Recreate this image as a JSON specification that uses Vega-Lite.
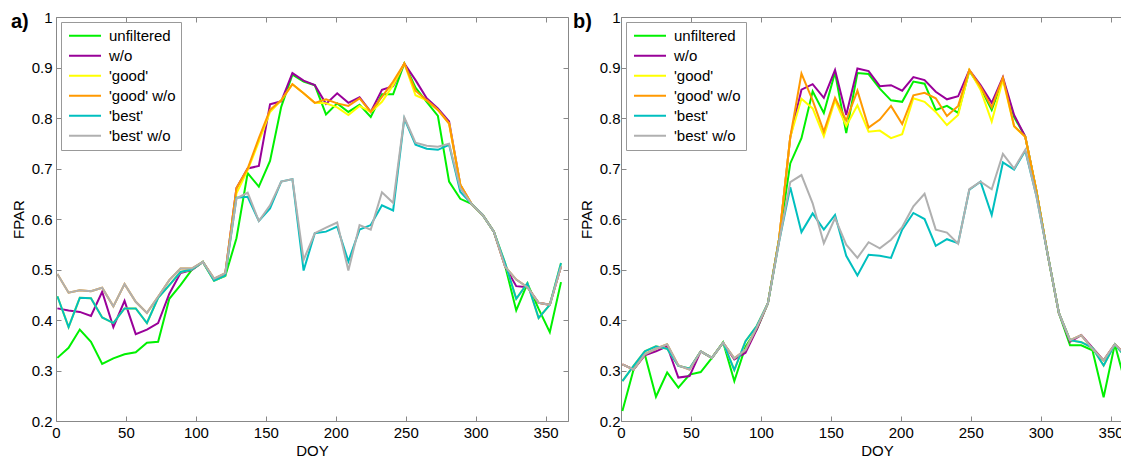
{
  "$schema": "https://vega.github.io/schema/vega-lite/v6.json",
  "background": "white",
  "padding": {"left": 10, "top": 9, "right": 0, "bottom": 0},
  "spacing": 3,
  "config": {
    "font": "Liberation Sans",
    "view": {"stroke": "#888888", "strokeWidth": 1},
    "axis": {"grid": false, "domain": false, "tickColor": "#888888", "tickSize": -5, "labelFontSize": 15, "labelColor": "black", "titleFontSize": 15, "titleFontWeight": "normal", "titleColor": "black", "labelFlush": false, "labelOverlap": false},
    "legend": {"orient": "top-left", "offset": 5, "padding": 5, "strokeColor": "#999999", "fillColor": "white", "symbolType": "stroke", "symbolSize": 1024, "symbolStrokeWidth": 2, "clipHeight": 17.5, "rowPadding": 2, "labelFontSize": 15, "labelColor": "black", "labelOffset": 7, "symbolOffset": 2},
    "title": {"fontSize": 20, "fontWeight": "bold", "color": "black", "anchor": "start", "frame": "group", "baseline": "alphabetic", "offset": 0}
  },
  "datasets": {
    "a": [
      {"doy": 1, "u": 0.325, "w": 0.423, "g": 0.447, "gw": 0.491, "b": 0.447, "bw": 0.491},
      {"doy": 9, "u": 0.345, "w": 0.419, "g": 0.386, "gw": 0.454, "b": 0.386, "bw": 0.454},
      {"doy": 17, "u": 0.381, "w": 0.416, "g": 0.444, "gw": 0.459, "b": 0.444, "bw": 0.459},
      {"doy": 25, "u": 0.357, "w": 0.408, "g": 0.443, "gw": 0.457, "b": 0.443, "bw": 0.457},
      {"doy": 33, "u": 0.313, "w": 0.456, "g": 0.405, "gw": 0.464, "b": 0.405, "bw": 0.464},
      {"doy": 41, "u": 0.324, "w": 0.386, "g": 0.394, "gw": 0.427, "b": 0.394, "bw": 0.427},
      {"doy": 49, "u": 0.332, "w": 0.438, "g": 0.423, "gw": 0.471, "b": 0.423, "bw": 0.471},
      {"doy": 57, "u": 0.336, "w": 0.372, "g": 0.423, "gw": 0.436, "b": 0.423, "bw": 0.436},
      {"doy": 65, "u": 0.355, "w": 0.381, "g": 0.394, "gw": 0.414, "b": 0.394, "bw": 0.414},
      {"doy": 73, "u": 0.357, "w": 0.394, "g": 0.444, "gw": 0.446, "b": 0.444, "bw": 0.446},
      {"doy": 81, "u": 0.442, "w": 0.452, "g": 0.469, "gw": 0.479, "b": 0.469, "bw": 0.479},
      {"doy": 89, "u": 0.469, "w": 0.493, "g": 0.495, "gw": 0.502, "b": 0.495, "bw": 0.502},
      {"doy": 97, "u": 0.499, "w": 0.499, "g": 0.5, "gw": 0.502, "b": 0.5, "bw": 0.502},
      {"doy": 105, "u": 0.515, "w": 0.515, "g": 0.515, "gw": 0.515, "b": 0.515, "bw": 0.515},
      {"doy": 113, "u": 0.478, "w": 0.48, "g": 0.478, "gw": 0.482, "b": 0.478, "bw": 0.482},
      {"doy": 121, "u": 0.487, "w": 0.492, "g": 0.488, "gw": 0.493, "b": 0.488, "bw": 0.493},
      {"doy": 129, "u": 0.562, "w": 0.661, "g": 0.651, "gw": 0.661, "b": 0.642, "bw": 0.641},
      {"doy": 137, "u": 0.691, "w": 0.7, "g": 0.697, "gw": 0.7, "b": 0.644, "bw": 0.652},
      {"doy": 145, "u": 0.664, "w": 0.705, "g": 0.753, "gw": 0.76, "b": 0.596, "bw": 0.596},
      {"doy": 153, "u": 0.715, "w": 0.827, "g": 0.812, "gw": 0.816, "b": 0.621, "bw": 0.627},
      {"doy": 161, "u": 0.822, "w": 0.833, "g": 0.835, "gw": 0.835, "b": 0.674, "bw": 0.674},
      {"doy": 169, "u": 0.886, "w": 0.889, "g": 0.867, "gw": 0.867, "b": 0.679, "bw": 0.679},
      {"doy": 177, "u": 0.872, "w": 0.874, "g": 0.849, "gw": 0.849, "b": 0.498, "bw": 0.519},
      {"doy": 185, "u": 0.865, "w": 0.865, "g": 0.83, "gw": 0.83, "b": 0.572, "bw": 0.572},
      {"doy": 193, "u": 0.807, "w": 0.828, "g": 0.829, "gw": 0.837, "b": 0.575, "bw": 0.583},
      {"doy": 201, "u": 0.829, "w": 0.849, "g": 0.821, "gw": 0.829, "b": 0.585, "bw": 0.593},
      {"doy": 209, "u": 0.812, "w": 0.83, "g": 0.806, "gw": 0.824, "b": 0.516, "bw": 0.498},
      {"doy": 217, "u": 0.826, "w": 0.841, "g": 0.824, "gw": 0.839, "b": 0.579, "bw": 0.588},
      {"doy": 225, "u": 0.802, "w": 0.812, "g": 0.812, "gw": 0.812, "b": 0.588, "bw": 0.579},
      {"doy": 233, "u": 0.847, "w": 0.856, "g": 0.832, "gw": 0.842, "b": 0.627, "bw": 0.653},
      {"doy": 241, "u": 0.847, "w": 0.863, "g": 0.865, "gw": 0.872, "b": 0.617, "bw": 0.632},
      {"doy": 249, "u": 0.908, "w": 0.908, "g": 0.908, "gw": 0.908, "b": 0.799, "bw": 0.801},
      {"doy": 257, "u": 0.86, "w": 0.875, "g": 0.845, "gw": 0.854, "b": 0.747, "bw": 0.751},
      {"doy": 265, "u": 0.832, "w": 0.839, "g": 0.835, "gw": 0.835, "b": 0.739, "bw": 0.745},
      {"doy": 273, "u": 0.804, "w": 0.819, "g": 0.816, "gw": 0.816, "b": 0.737, "bw": 0.743},
      {"doy": 281, "u": 0.674, "w": 0.793, "g": 0.789, "gw": 0.789, "b": 0.747, "bw": 0.749},
      {"doy": 289, "u": 0.64, "w": 0.668, "g": 0.668, "gw": 0.668, "b": 0.654, "bw": 0.661},
      {"doy": 297, "u": 0.63, "w": 0.63, "g": 0.63, "gw": 0.63, "b": 0.63, "bw": 0.63},
      {"doy": 305, "u": 0.608, "w": 0.608, "g": 0.608, "gw": 0.608, "b": 0.608, "bw": 0.608},
      {"doy": 313, "u": 0.575, "w": 0.575, "g": 0.575, "gw": 0.575, "b": 0.575, "bw": 0.575},
      {"doy": 321, "u": 0.508, "w": 0.506, "g": 0.513, "gw": 0.506, "b": 0.513, "bw": 0.506},
      {"doy": 329, "u": 0.419, "w": 0.467, "g": 0.442, "gw": 0.48, "b": 0.442, "bw": 0.48},
      {"doy": 337, "u": 0.472, "w": 0.465, "g": 0.473, "gw": 0.465, "b": 0.473, "bw": 0.465},
      {"doy": 345, "u": 0.422, "w": 0.434, "g": 0.404, "gw": 0.434, "b": 0.404, "bw": 0.434},
      {"doy": 353, "u": 0.376, "w": 0.43, "g": 0.43, "gw": 0.43, "b": 0.43, "bw": 0.43},
      {"doy": 361, "u": 0.475, "w": 0.506, "g": 0.513, "gw": 0.506, "b": 0.513, "bw": 0.506}
    ],
    "b": [
      {"doy": 1, "u": 0.22, "w": 0.312, "g": 0.279, "gw": 0.312, "b": 0.279, "bw": 0.312},
      {"doy": 9, "u": 0.302, "w": 0.302, "g": 0.309, "gw": 0.302, "b": 0.309, "bw": 0.302},
      {"doy": 17, "u": 0.332, "w": 0.33, "g": 0.338, "gw": 0.332, "b": 0.338, "bw": 0.332},
      {"doy": 25, "u": 0.248, "w": 0.338, "g": 0.348, "gw": 0.343, "b": 0.348, "bw": 0.343},
      {"doy": 33, "u": 0.296, "w": 0.348, "g": 0.343, "gw": 0.352, "b": 0.343, "bw": 0.352},
      {"doy": 41, "u": 0.266, "w": 0.286, "g": 0.309, "gw": 0.31, "b": 0.309, "bw": 0.31},
      {"doy": 49, "u": 0.292, "w": 0.289, "g": 0.304, "gw": 0.302, "b": 0.304, "bw": 0.302},
      {"doy": 57, "u": 0.297, "w": 0.338, "g": 0.338, "gw": 0.338, "b": 0.338, "bw": 0.338},
      {"doy": 65, "u": 0.325, "w": 0.325, "g": 0.325, "gw": 0.325, "b": 0.325, "bw": 0.325},
      {"doy": 73, "u": 0.356, "w": 0.355, "g": 0.355, "gw": 0.355, "b": 0.355, "bw": 0.355},
      {"doy": 81, "u": 0.279, "w": 0.322, "g": 0.301, "gw": 0.324, "b": 0.301, "bw": 0.324},
      {"doy": 89, "u": 0.347, "w": 0.335, "g": 0.358, "gw": 0.341, "b": 0.358, "bw": 0.341},
      {"doy": 97, "u": 0.381, "w": 0.381, "g": 0.388, "gw": 0.385, "b": 0.388, "bw": 0.385},
      {"doy": 105, "u": 0.433, "w": 0.433, "g": 0.433, "gw": 0.433, "b": 0.433, "bw": 0.433},
      {"doy": 113, "u": 0.56, "w": 0.56, "g": 0.56, "gw": 0.56, "b": 0.555, "bw": 0.555},
      {"doy": 121, "u": 0.71, "w": 0.762, "g": 0.762, "gw": 0.762, "b": 0.663, "bw": 0.673},
      {"doy": 129, "u": 0.76, "w": 0.856, "g": 0.838, "gw": 0.888, "b": 0.574, "bw": 0.687},
      {"doy": 137, "u": 0.853, "w": 0.867, "g": 0.819, "gw": 0.835, "b": 0.611, "bw": 0.631},
      {"doy": 145, "u": 0.81, "w": 0.84, "g": 0.764, "gw": 0.773, "b": 0.579, "bw": 0.552},
      {"doy": 153, "u": 0.89, "w": 0.895, "g": 0.835, "gw": 0.84, "b": 0.608, "bw": 0.602},
      {"doy": 161, "u": 0.77, "w": 0.806, "g": 0.784, "gw": 0.795, "b": 0.527, "bw": 0.549},
      {"doy": 169, "u": 0.889, "w": 0.898, "g": 0.825, "gw": 0.854, "b": 0.488, "bw": 0.523},
      {"doy": 177, "u": 0.887, "w": 0.893, "g": 0.773, "gw": 0.781, "b": 0.529, "bw": 0.554},
      {"doy": 185, "u": 0.858, "w": 0.863, "g": 0.775, "gw": 0.797, "b": 0.527, "bw": 0.542},
      {"doy": 193, "u": 0.835, "w": 0.865, "g": 0.76, "gw": 0.824, "b": 0.523, "bw": 0.559},
      {"doy": 201, "u": 0.832, "w": 0.854, "g": 0.768, "gw": 0.788, "b": 0.579, "bw": 0.584},
      {"doy": 209, "u": 0.872, "w": 0.881, "g": 0.839, "gw": 0.845, "b": 0.612, "bw": 0.625},
      {"doy": 217, "u": 0.868, "w": 0.875, "g": 0.832, "gw": 0.85, "b": 0.6, "bw": 0.65},
      {"doy": 225, "u": 0.816, "w": 0.852, "g": 0.812, "gw": 0.839, "b": 0.547, "bw": 0.579},
      {"doy": 233, "u": 0.824, "w": 0.837, "g": 0.786, "gw": 0.804, "b": 0.56, "bw": 0.573},
      {"doy": 241, "u": 0.81, "w": 0.843, "g": 0.806, "gw": 0.824, "b": 0.552, "bw": 0.551},
      {"doy": 249, "u": 0.893, "w": 0.895, "g": 0.895, "gw": 0.895, "b": 0.658, "bw": 0.659},
      {"doy": 257, "u": 0.86, "w": 0.865, "g": 0.856, "gw": 0.862, "b": 0.674, "bw": 0.674},
      {"doy": 265, "u": 0.816, "w": 0.83, "g": 0.793, "gw": 0.821, "b": 0.608, "bw": 0.659},
      {"doy": 273, "u": 0.877, "w": 0.881, "g": 0.876, "gw": 0.88, "b": 0.712, "bw": 0.729},
      {"doy": 281, "u": 0.802, "w": 0.806, "g": 0.783, "gw": 0.784, "b": 0.698, "bw": 0.7},
      {"doy": 289, "u": 0.763, "w": 0.763, "g": 0.763, "gw": 0.763, "b": 0.735, "bw": 0.737},
      {"doy": 297, "u": 0.655, "w": 0.655, "g": 0.655, "gw": 0.655, "b": 0.645, "bw": 0.645},
      {"doy": 305, "u": 0.53, "w": 0.53, "g": 0.53, "gw": 0.53, "b": 0.53, "bw": 0.53},
      {"doy": 313, "u": 0.414, "w": 0.414, "g": 0.414, "gw": 0.414, "b": 0.414, "bw": 0.414},
      {"doy": 321, "u": 0.35, "w": 0.357, "g": 0.36, "gw": 0.36, "b": 0.36, "bw": 0.36},
      {"doy": 329, "u": 0.35, "w": 0.37, "g": 0.356, "gw": 0.37, "b": 0.356, "bw": 0.37},
      {"doy": 337, "u": 0.34, "w": 0.345, "g": 0.345, "gw": 0.343, "b": 0.345, "bw": 0.343},
      {"doy": 345, "u": 0.247, "w": 0.32, "g": 0.31, "gw": 0.32, "b": 0.31, "bw": 0.32},
      {"doy": 353, "u": 0.352, "w": 0.352, "g": 0.352, "gw": 0.352, "b": 0.352, "bw": 0.352},
      {"doy": 361, "u": 0.27, "w": 0.33, "g": 0.325, "gw": 0.33, "b": 0.325, "bw": 0.33}
    ]
  },
  "resolve": {"scale": {"color": "independent"}, "legend": {"color": "independent"}},
  "hconcat": [
    {
      "width": 512,
      "height": 404,
      "data": {"name": "a"},
      "transform": [{"fold": ["u", "w", "g", "gw", "b", "bw"], "as": ["series", "v"]}],
      "title": {"text": "a)", "dx": -45, "dy": 26},
      "layer": [
        {
          "mark": {"type": "line", "strokeWidth": 2},
          "encoding": {
            "x": {"field": "doy", "type": "quantitative", "scale": {"domain": [0, 366], "nice": false, "zero": false},
              "axis": {"orient": "bottom", "values": [0, 50, 100, 150, 200, 250, 300, 350], "labelPadding": 9, "title": "DOY", "titlePadding": 3}},
            "y": {"field": "v", "type": "quantitative", "scale": {"domain": [0.2, 1], "nice": false, "zero": false},
              "axis": {"orient": "left", "values": [0.2, 0.3, 0.4, 0.5, 0.6, 0.7, 0.8, 0.9, 1], "format": "~g", "labelPadding": 9, "title": "FPAR", "titlePadding": 5}},
            "color": {"field": "series", "type": "nominal",
              "scale": {"domain": ["u", "w", "g", "gw", "b", "bw"], "range": ["#00f000", "#990099", "#ffff00", "#ff9900", "#00bfbf", "#b0b0b0"]},
              "legend": {"title": null, "labelExpr": "datum.label == 'u' ? 'unfiltered' : datum.label == 'w' ? 'w/o' : datum.label == 'g' ? \"'good'\" : datum.label == 'gw' ? \"'good' w/o\" : datum.label == 'b' ? \"'best'\" : \"'best' w/o\""}}
          }
        },
        {
          "mark": {"type": "point", "opacity": 0},
          "encoding": {
            "x": {"field": "doy", "type": "quantitative", "axis": {"orient": "top", "values": [0, 50, 100, 150, 200, 250, 300, 350], "labels": false, "title": null}},
            "y": {"field": "v", "type": "quantitative", "axis": {"orient": "right", "values": [0.2, 0.3, 0.4, 0.5, 0.6, 0.7, 0.8, 0.9, 1], "labels": false, "title": null}}
          }
        }
      ],
      "resolve": {"axis": {"x": "independent", "y": "independent"}}
    },
    {
      "width": 512,
      "height": 404,
      "data": {"name": "b"},
      "transform": [{"fold": ["u", "w", "g", "gw", "b", "bw"], "as": ["series", "v"]}],
      "title": {"text": "b)", "dx": -48, "dy": 26},
      "layer": [
        {
          "mark": {"type": "line", "strokeWidth": 2},
          "encoding": {
            "x": {"field": "doy", "type": "quantitative", "scale": {"domain": [0, 366], "nice": false, "zero": false},
              "axis": {"orient": "bottom", "values": [0, 50, 100, 150, 200, 250, 300, 350], "labelPadding": 9, "title": "DOY", "titlePadding": 3}},
            "y": {"field": "v", "type": "quantitative", "scale": {"domain": [0.2, 1], "nice": false, "zero": false},
              "axis": {"orient": "left", "values": [0.2, 0.3, 0.4, 0.5, 0.6, 0.7, 0.8, 0.9, 1], "format": "~g", "labelPadding": 6, "title": "FPAR", "titlePadding": 5}},
            "color": {"field": "series", "type": "nominal",
              "scale": {"domain": ["u", "w", "g", "gw", "b", "bw"], "range": ["#00f000", "#990099", "#ffff00", "#ff9900", "#00bfbf", "#b0b0b0"]},
              "legend": {"title": null, "labelExpr": "datum.label == 'u' ? 'unfiltered' : datum.label == 'w' ? 'w/o' : datum.label == 'g' ? \"'good'\" : datum.label == 'gw' ? \"'good' w/o\" : datum.label == 'b' ? \"'best'\" : \"'best' w/o\""}}
          }
        },
        {
          "mark": {"type": "point", "opacity": 0},
          "encoding": {
            "x": {"field": "doy", "type": "quantitative", "axis": {"orient": "top", "values": [0, 50, 100, 150, 200, 250, 300, 350], "labels": false, "title": null}},
            "y": {"field": "v", "type": "quantitative", "axis": {"orient": "right", "values": [0.2, 0.3, 0.4, 0.5, 0.6, 0.7, 0.8, 0.9, 1], "labels": false, "title": null}}
          }
        }
      ],
      "resolve": {"axis": {"x": "independent", "y": "independent"}}
    }
  ]
}
